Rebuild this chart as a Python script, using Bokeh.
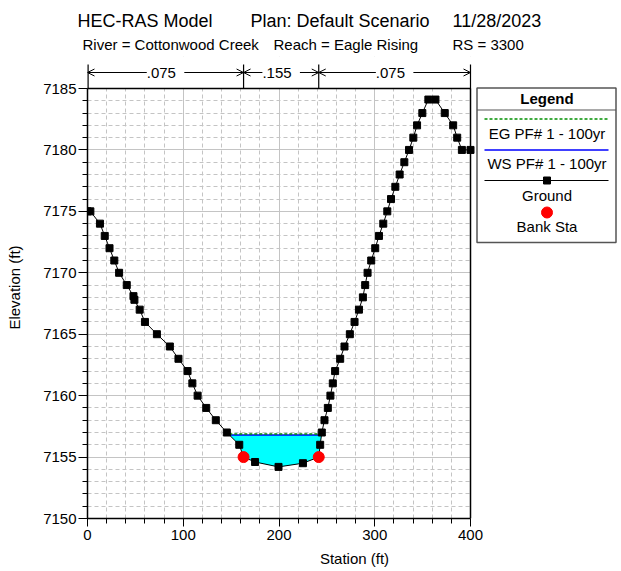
import numpy as np
from bokeh.plotting import figure
from bokeh.layouts import column
from bokeh.models import Range1d, Label, Arrow, OpenHead, SingleIntervalTicker
from bokeh.embed import file_html
from bokeh.resources import INLINE

# ---------------- data ----------------
station = [0, 3, 13, 18, 23, 28, 33, 41, 48, 49, 54.5, 60, 72.5, 86, 95,
           104.5, 109.5, 115, 124, 134, 145.5, 158.5, 163, 175, 199.5, 225,
           241.5, 243, 244.7, 247.5, 251, 253.7, 256.2, 258.6, 263.9, 268.4,
           274, 278.9, 283.5, 287.6, 290, 292.5, 296.3, 300.5, 304.4, 308.9,
           313.1, 317, 321.5, 326, 330.9, 335.8, 340.3, 344.2, 349.7, 356,
           363.4, 373.1, 381.9, 386.1, 391, 400]
elevation = [7175, 7175, 7174, 7173, 7172, 7171, 7170, 7169, 7168.1, 7167.8,
             7167, 7166, 7165, 7164, 7163, 7162, 7161, 7160, 7159, 7158, 7157,
             7156, 7155, 7154.6, 7154.2, 7154.5, 7155, 7156, 7157, 7158, 7159,
             7160, 7161, 7162, 7163, 7164, 7165, 7166, 7167, 7168, 7169, 7170,
             7171, 7172, 7173, 7174, 7175, 7176, 7177, 7178, 7179, 7180, 7181,
             7182, 7183, 7184.1, 7184.1, 7183, 7182, 7181, 7180, 7180]
bank_sta = [163, 241.5]
bank_elev = [7155, 7155]
ws_elev = 7156.8
eg_elev = 7156.87
n_bounds = [0, 163, 241.5, 400]
n_values = [".075", ".155", ".075"]
x_range = (0, 400)
y_range = (7150, 7185)
title_parts = ["HEC-RAS Model", "Plan: Default Scenario", "11/28/2023"]
sub_parts = ["River = Cottonwood Creek", "Reach = Eagle Rising", "RS = 3300"]
legend_items = ["EG PF# 1 - 100yr", "WS PF# 1 - 100yr", "Ground", "Bank Sta"]

FONT = "Liberation Sans"
EG_COLOR = "#009000"
WS_COLOR = "#0000FF"

# ---------------- page geometry (px) ----------------
PAGE_W, PAGE_H = 621, 571
TOP_H = 56                      # height of the title strip
FX0, FX1 = 87, 470              # plot area left/right (page px)
FY0, FY1 = 88, 518              # plot area top/bottom (page px)
KX = (FX1 - FX0) / (x_range[1] - x_range[0])
KY = (FY1 - FY0) / (y_range[1] - y_range[0])


def dx(px):
    return x_range[0] + (px - FX0) / KX


def dy(py):
    return y_range[1] - (py - FY0) / KY


def tlabel(fig, x, y, text, size="15px", align="left", angle=0, bold=False,
           bg=None):
    fig.add_layout(Label(x=x, y=y, text=text, text_font=FONT,
                         text_font_size=size, text_align=align,
                         text_baseline="middle", angle=angle,
                         text_color="black",
                         text_font_style="bold" if bold else "normal",
                         background_fill_color=bg))


# ================= title strip =================
T = figure(width=PAGE_W, height=TOP_H, output_backend="svg",
           toolbar_location=None, title=None,
           x_axis_location=None, y_axis_location=None,
           x_range=Range1d(0, PAGE_W), y_range=Range1d(TOP_H, 0),
           min_border_left=0, min_border_right=0, min_border_top=0,
           min_border_bottom=0, frame_align=False)
T.outline_line_color = None
T.grid.visible = False
T.background_fill_color = "white"
T.border_fill_color = "white"

for txt, px in zip(title_parts, [77, 250, 452]):
    tlabel(T, px, 20, txt, size="18px")
for txt, px in zip(sub_parts, [82, 273, 452]):
    tlabel(T, px, 44, txt, size="15px")

# ================= main plot =================
M_H = PAGE_H - TOP_H
p = figure(width=PAGE_W, height=M_H, output_backend="svg",
           toolbar_location=None, title=None,
           x_range=Range1d(x_range[0], dx(PAGE_W)),
           y_range=Range1d(y_range[0], dy(TOP_H)),
           min_border_left=FX0, min_border_right=0, min_border_top=0,
           min_border_bottom=PAGE_H - FY1, frame_align=False)
p.background_fill_color = "white"
p.border_fill_color = "white"
p.outline_line_color = None

p.xaxis.ticker = SingleIntervalTicker(interval=100, num_minor_ticks=5)
p.yaxis.ticker = SingleIntervalTicker(interval=5, num_minor_ticks=5)
p.xaxis.bounds = x_range
p.yaxis.bounds = y_range
for ax in (p.xaxis[0], p.yaxis[0]):
    ax.axis_line_color = "black"
    ax.axis_line_width = 1.5
    ax.major_tick_line_color = "black"
    ax.minor_tick_line_color = "black"
    ax.major_tick_in = 0
    ax.minor_tick_in = 0
    ax.minor_tick_out = 5
    ax.major_label_text_font = FONT
    ax.major_label_text_font_size = "15px"
    ax.major_label_text_color = "black"
    ax.axis_label_text_font = FONT
    ax.axis_label_text_font_size = "15px"
    ax.axis_label_text_font_style = "normal"
    ax.axis_label_text_color = "black"
p.xaxis.major_tick_out = 8
p.yaxis.major_tick_out = 9
p.xaxis.major_label_standoff = 3
p.yaxis.major_label_standoff = 2
p.xaxis.axis_label = "Station (ft)"
p.yaxis.axis_label = "Elevation (ft)"
p.xaxis.axis_label_standoff = 7
p.yaxis.axis_label_standoff = 17

for g in (p.xgrid[0], p.ygrid[0]):
    g.grid_line_color = "#c4c4c4"
    g.grid_line_width = 1
    g.minor_grid_line_color = "#c4c4c4"
    g.minor_grid_line_dash = "4 3"
    g.minor_grid_line_width = 1

# white covers (drawn first among glyphs) keep the grid inside the plot area
XR, YT = dx(PAGE_W), dy(TOP_H)
p.quad(left=[x_range[1], x_range[0]], right=[XR, XR],
       bottom=[y_range[0], y_range[1]], top=[YT, YT],
       fill_color="white", line_color=None)

# plot-area border (top & right)
p.line([x_range[0], x_range[1], x_range[1]],
       [y_range[1], y_range[1], y_range[0]], line_color="black",
       line_width=1.5)

# ---------------- Manning's n bar ----------------
y_bar = dy(72)
p.segment(x0=n_bounds, y0=[dy(64)] * len(n_bounds), x1=n_bounds,
          y1=[y_range[1]] * len(n_bounds), line_color="black",
          line_width=[2.4] + [1.2] * (len(n_bounds) - 1))
for a, b, nv in zip(n_bounds[:-1], n_bounds[1:], n_values):
    p.add_layout(Arrow(start=OpenHead(size=7, line_width=1),
                       end=OpenHead(size=7, line_width=1),
                       x_start=a, y_start=y_bar, x_end=b, y_end=y_bar,
                       line_color="black", line_width=1))
    tlabel(p, (a + b) / 2, y_bar, " " + nv + " ", align="center", bg="white")

# ---------------- water ----------------
st = np.array(station, dtype=float)
el = np.array(elevation, dtype=float)
idx = np.where(el < ws_elev)[0]
i0, i1 = idx[0], idx[-1]


def cross(a, b, lev):
    return st[a] + (lev - el[a]) * (st[b] - st[a]) / (el[b] - el[a])


xl = cross(i0 - 1, i0, ws_elev)
xr = cross(i1, i1 + 1, ws_elev)
wx = [xl] + list(st[i0:i1 + 1]) + [xr]
wy = [ws_elev] + list(el[i0:i1 + 1]) + [ws_elev]
p.patch(wx, wy, fill_color="#00FFFF", line_color=None)
p.line([xl, xr], [ws_elev, ws_elev], line_color=WS_COLOR, line_width=1.5)
p.line([xl, xr], [eg_elev, eg_elev], line_color=EG_COLOR, line_width=1.5,
       line_dash="3 2")

# ---------------- ground ----------------
p.line(station, elevation, line_color="black", line_width=1)
p.scatter(station, elevation, marker="square", size=7, fill_color="black",
          line_color="black")
p.scatter(bank_sta, bank_elev, marker="circle", size=11, fill_color="red",
          line_color="red")

# ---------------- legend ----------------
p.quad(left=[dx(476.5)], right=[dx(615.5)], top=[dy(87.5)], bottom=[dy(242)],
       fill_color="white", line_color="#555555", line_width=1.5)
p.segment(x0=[dx(476.5)], y0=[dy(109.5)], x1=[dx(615.5)], y1=[dy(109.5)],
          line_color="#555555", line_width=1.2)
lx0, lx1, lxc = dx(484), dx(608), dx(546.5)
tlabel(p, lxc, dy(97.5), "Legend", bold=True, align="center")
p.line([lx0, lx1], [dy(118.5)] * 2, line_color=EG_COLOR, line_width=1.5,
       line_dash="3 2")
tlabel(p, lxc, dy(132.5), legend_items[0], align="center")
p.line([lx0, lx1], [dy(149.5)] * 2, line_color=WS_COLOR, line_width=1.5)
tlabel(p, lxc, dy(163), legend_items[1], align="center")
p.line([lx0, lx1], [dy(180)] * 2, line_color="black", line_width=1.2)
p.scatter([lxc], [dy(180)], marker="square", size=7, fill_color="black",
          line_color="black")
tlabel(p, lxc, dy(194.5), legend_items[2], align="center")
p.scatter([lxc], [dy(212)], marker="circle", size=11, fill_color="red",
          line_color="red")
tlabel(p, lxc, dy(226), legend_items[3], align="center")

layout = column(T, p, spacing=0)
open("out.html", "w").write(file_html(layout, INLINE))
